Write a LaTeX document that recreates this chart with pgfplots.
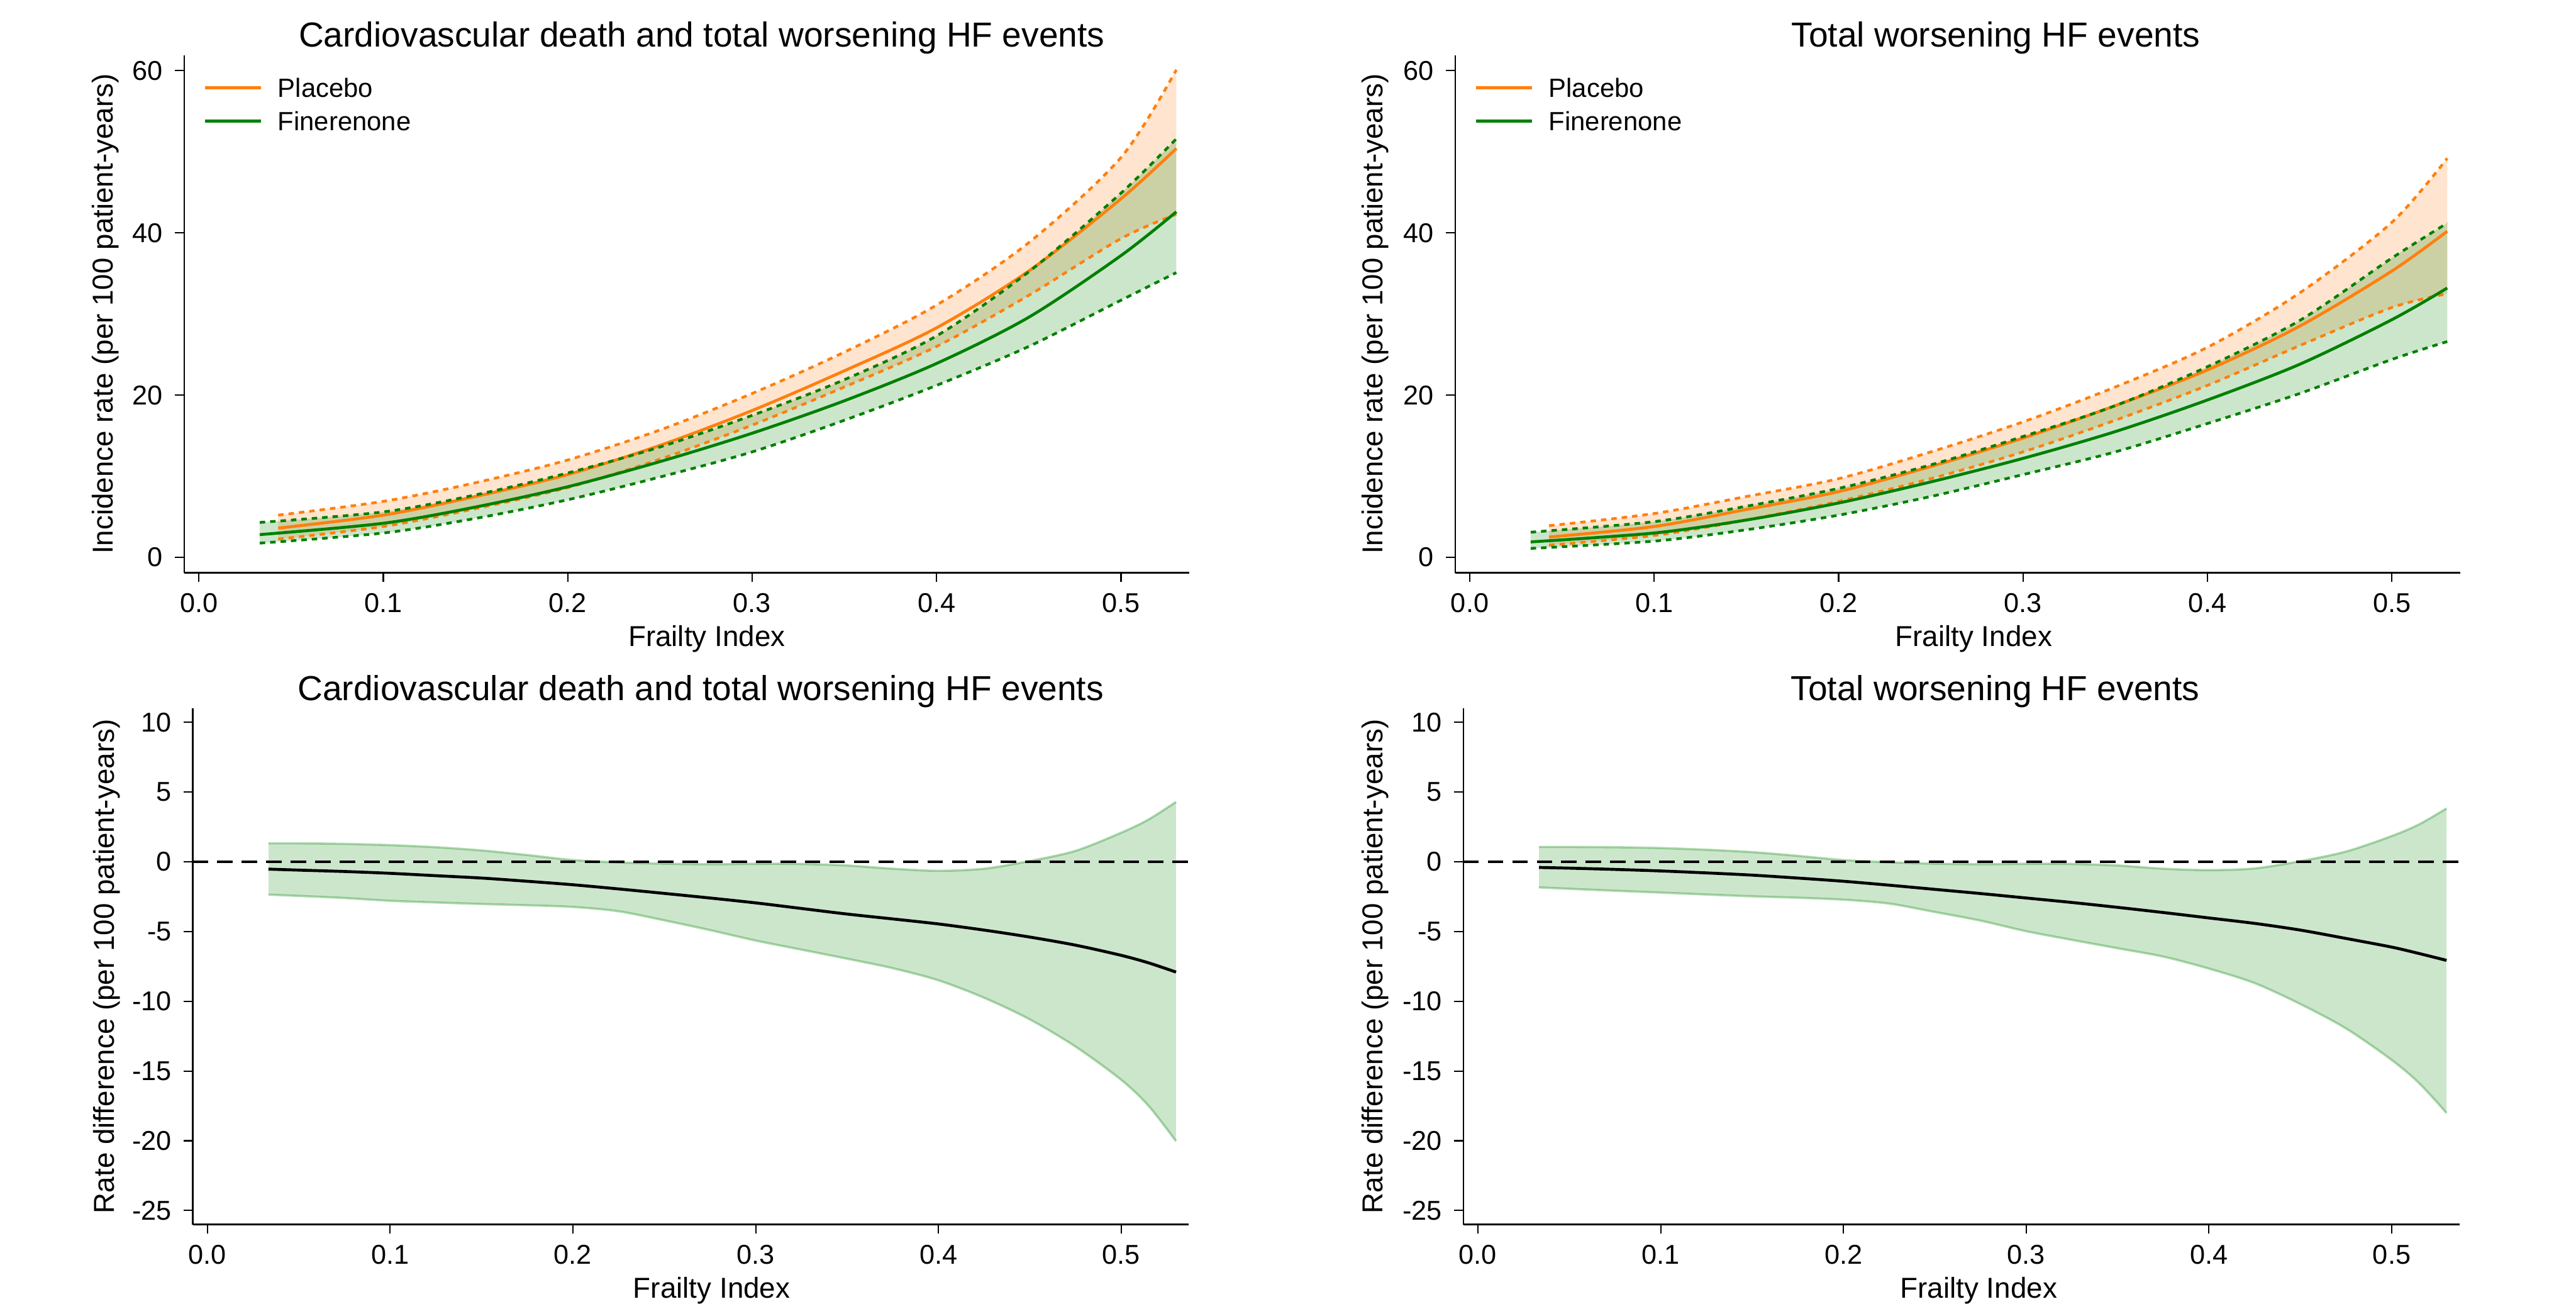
\documentclass[border=0pt]{standalone}
\usepackage{fontspec}
\setmainfont{Liberation Sans}
\usepackage{pgfplots}
\usepackage{pgfplotstable}
\pgfplotsset{compat=1.18}
\usepgfplotslibrary{fillbetween}

\definecolor{plc}{HTML}{FF7F0E}
\definecolor{fin}{HTML}{008000}

% top left: x, mean, upper, lower
\pgfplotstableread{
x     m    u    l
0.043 3.6  5.2  2.25
0.10  5.2  6.9  3.8
0.15  7.5  9.2  6.0
0.20  10.2 12.0 8.6
0.25  13.8 15.7 12.1
0.30  18.1 20.2 16.3
0.35  23.0 25.3 21.0
0.40  28.3 31.1 26.0
0.45  35.3 38.8 32.3
0.50  44.2 49.3 39.3
0.53  50.4 60.1 42.3
}\plcA
\pgfplotstableread{
x     m    u    l
0.033 2.8  4.3  1.75
0.10  4.2  5.6  3.0
0.15  6.2  7.7  4.8
0.20  8.7  10.4 7.1
0.25  11.8 13.6 9.9
0.30  15.3 17.5 13.0
0.35  19.3 21.9 16.9
0.40  23.9 27.3 21.2
0.45  29.6 35.2 26.0
0.50  37.2 44.9 31.7
0.53  42.6 51.6 35.1
}\finA
% top right
\pgfplotstableread{
x     m    u    l
0.043 2.5  3.9  1.5
0.10  3.8  5.4  2.7
0.15  5.9  7.5  4.6
0.20  8.1  9.7  6.9
0.25  11.2 13.0 9.7
0.30  14.7 16.7 13.0
0.35  18.7 21.0 16.9
0.40  23.1 25.9 21.2
0.45  28.5 32.6 26.1
0.50  35.3 41.3 30.8
0.53  40.2 49.2 32.5
}\plcB
\pgfplotstableread{
x     m    u    l
0.033 1.9  3.1  1.1
0.10  3.0  4.4  2.0
0.15  4.6  6.3  3.4
0.20  6.7  8.5  5.2
0.25  9.3  11.4 7.5
0.30  12.2 14.9 10.2
0.35  15.5 18.7 13.0
0.40  19.4 23.5 16.5
0.45  23.8 29.2 20.2
0.50  29.3 36.9 24.4
0.53  33.2 41.2 26.6
}\finB
% bottom left: rate difference
\pgfplotstableread{
x      m      u      l
0.0334 -0.53  1.32  -2.36
0.050  -0.60  1.32  -2.45
0.075  -0.70  1.28  -2.60
0.100  -0.83  1.19  -2.80
0.125  -1.00  1.04  -2.92
0.150  -1.17  0.81  -3.03
0.175  -1.40  0.48  -3.12
0.200  -1.65  0.12  -3.24
0.225  -1.95  -0.05 -3.55
0.250  -2.27  -0.14 -4.20
0.275  -2.60  -0.18 -4.90
0.300  -2.95  -0.15 -5.65
0.325  -3.35  -0.16 -6.30
0.350  -3.75  -0.27 -6.95
0.375  -4.10  -0.50 -7.63
0.400  -4.46  -0.65 -8.50
0.425  -4.90  -0.50 -9.75
0.450  -5.40  0.05  -11.30
0.475  -5.98  0.78  -13.25
0.500  -6.71  2.08  -15.63
0.515  -7.25  3.03  -17.50
0.530  -7.91  4.29  -20.03
}\difA
% bottom right
\pgfplotstableread{
x      m      u      l
0.0334 -0.41  1.06  -1.84
0.050  -0.46  1.06  -1.94
0.075  -0.55  1.04  -2.08
0.100  -0.66  0.98  -2.21
0.125  -0.80  0.86  -2.35
0.150  -0.96  0.69  -2.48
0.175  -1.17  0.42  -2.58
0.200  -1.40  0.12  -2.72
0.225  -1.68  -0.04 -3.00
0.250  -1.98  -0.14 -3.60
0.275  -2.28  -0.18 -4.22
0.300  -2.60  -0.15 -4.98
0.325  -2.92  -0.16 -5.60
0.350  -3.27  -0.27 -6.20
0.375  -3.64  -0.50 -6.80
0.400  -4.03  -0.60 -7.66
0.425  -4.42  -0.48 -8.70
0.450  -4.90  0.04  -10.20
0.475  -5.50  0.73  -11.95
0.500  -6.12  1.84  -14.21
0.515  -6.58  2.68  -15.87
0.530  -7.07  3.82  -18.01
}\difB

\pgfplotsset{
  mypanel/.style={
    scale only axis, anchor=south west,
    axis x line*=bottom, axis y line*=left,
    axis line style={line width=0.3pt},
    tick style={black, line width=0.3pt},
    tick align=outside, major tick length=0.07cm,
    xmin=-0.008, xmax=0.537,
    xtick={0,0.1,0.2,0.3,0.4,0.5},
    xticklabels={0.0,0.1,0.2,0.3,0.4,0.5},
    tick label style={font=\fontsize{6}{7}\selectfont},
    xticklabel style={inner ysep=2.4pt},
    yticklabel style={inner xsep=2.5pt},
    label style={font=\fontsize{6.35}{7.5}\selectfont},
    xlabel={Frailty Index},
    title style={font=\fontsize{7.65}{9}\selectfont, anchor=south, inner sep=0pt, yshift=-6pt},
    legend style={draw=none, fill=none, at={(0.0185,0.9576)},
      anchor=north west, inner sep=0pt, row sep=3.2pt,
      font=\fontsize{5.8}{7}\selectfont,
      nodes={inner sep=0pt, text height=4.2pt, text depth=0pt},
      /tikz/every odd column/.append style={column sep=3.4pt}},
    legend cell align=left,
    legend image code/.code={\draw[##1, line width=0.75pt] (0cm,0cm) -- (0.43cm,0cm);},
  },
  mytop/.style={width=7.79cm, height=4.01cm,
    ymin=-1.9, ymax=61.9, ytick={0,20,40,60}, yticklabels={0,20,40,60},
    ylabel={Incidence rate (per 100 patient-years)}},
  mybot/.style={width=7.72cm, height=4.0cm,
    ymin=-26, ymax=11, ytick={-25,-20,-15,-10,-5,0,5,10},
    yticklabels={-25,-20,-15,-10,-5,0,5,10},
    ylabel={Rate difference (per 100 patient-years)}},
  myci/.style={line width=0.6pt, dash pattern=on 1.2pt off 1.1pt, smooth, forget plot},
  myest/.style={line width=0.65pt, smooth},
}

\begin{document}
\begin{tikzpicture}

% ---------- top left
\begin{axis}[mypanel, mytop, at={(1.427cm,5.664cm)},
  title={Cardiovascular death and total worsening HF events},
  title style={at={(0.515,1)}},
  xlabel style={at={(0.52,-0.142)}, anchor=base},
  ylabel style={at={(-0.0785,0.5)}, anchor=center}]
\addplot[draw=none, name path=pu, smooth, forget plot] table[x=x, y=u] {\plcA};
\addplot[draw=none, name path=pl, smooth, forget plot] table[x=x, y=l] {\plcA};
\addplot[plc, fill opacity=0.2, draw=none, forget plot] fill between[of=pu and pl];
\addplot[plc, myci] table[x=x, y=u] {\plcA};
\addplot[plc, myci] table[x=x, y=l] {\plcA};
\addplot[plc, myest] table[x=x, y=m] {\plcA};
\addlegendentry{Placebo}
\addplot[draw=none, name path=fu, smooth, forget plot] table[x=x, y=u] {\finA};
\addplot[draw=none, name path=fl, smooth, forget plot] table[x=x, y=l] {\finA};
\addplot[fin, fill opacity=0.2, draw=none, forget plot] fill between[of=fu and fl];
\addplot[fin, myci] table[x=x, y=u] {\finA};
\addplot[fin, myci] table[x=x, y=l] {\finA};
\addplot[fin, myest] table[x=x, y=m] {\finA};
\addlegendentry{Finerenone}
\end{axis}

% ---------- top right
\begin{axis}[mypanel, mytop, at={(11.277cm,5.664cm)},
  title={Total worsening HF events},
  title style={at={(0.538,1)}},
  xlabel style={at={(0.516,-0.142)}, anchor=base},
  ylabel style={at={(-0.0797,0.5)}, anchor=center}]
\addplot[draw=none, name path=pu, smooth, forget plot] table[x=x, y=u] {\plcB};
\addplot[draw=none, name path=pl, smooth, forget plot] table[x=x, y=l] {\plcB};
\addplot[plc, fill opacity=0.2, draw=none, forget plot] fill between[of=pu and pl];
\addplot[plc, myci] table[x=x, y=u] {\plcB};
\addplot[plc, myci] table[x=x, y=l] {\plcB};
\addplot[plc, myest] table[x=x, y=m] {\plcB};
\addlegendentry{Placebo}
\addplot[draw=none, name path=fu, smooth, forget plot] table[x=x, y=u] {\finB};
\addplot[draw=none, name path=fl, smooth, forget plot] table[x=x, y=l] {\finB};
\addplot[fin, fill opacity=0.2, draw=none, forget plot] fill between[of=fu and fl];
\addplot[fin, myci] table[x=x, y=u] {\finB};
\addplot[fin, myci] table[x=x, y=l] {\finB};
\addplot[fin, myest] table[x=x, y=m] {\finB};
\addlegendentry{Finerenone}
\end{axis}

% ---------- bottom left
\begin{axis}[mypanel, mybot, at={(1.494cm,0.614cm)},
  title={Cardiovascular death and total worsening HF events},
  title style={at={(0.51,1)}},
  xlabel style={at={(0.521,-0.142)}, anchor=base},
  ylabel style={at={(-0.0866,0.5)}, anchor=center}]
\addplot[draw=none, name path=du, smooth] table[x=x, y=u] {\difA};
\addplot[draw=none, name path=dl, smooth] table[x=x, y=l] {\difA};
\addplot[fin, fill opacity=0.2, draw=none] fill between[of=du and dl];
\addplot[fin, opacity=0.3, line width=0.5pt, smooth] table[x=x, y=u] {\difA};
\addplot[fin, opacity=0.3, line width=0.5pt, smooth] table[x=x, y=l] {\difA};
\addplot[black, line width=0.65pt, dash pattern=on 3.4pt off 2pt] coordinates {(-0.008,0) (0.537,0)};
\addplot[black, line width=0.65pt, smooth] table[x=x, y=m] {\difA};
\end{axis}

% ---------- bottom right
\begin{axis}[mypanel, mybot, at={(11.341cm,0.614cm)},
  title={Total worsening HF events},
  title style={at={(0.534,1)}},
  xlabel style={at={(0.5175,-0.142)}, anchor=base},
  ylabel style={at={(-0.0886,0.5)}, anchor=center}]
\addplot[draw=none, name path=du, smooth] table[x=x, y=u] {\difB};
\addplot[draw=none, name path=dl, smooth] table[x=x, y=l] {\difB};
\addplot[fin, fill opacity=0.2, draw=none] fill between[of=du and dl];
\addplot[fin, opacity=0.3, line width=0.5pt, smooth] table[x=x, y=u] {\difB};
\addplot[fin, opacity=0.3, line width=0.5pt, smooth] table[x=x, y=l] {\difB};
\addplot[black, line width=0.65pt, dash pattern=on 3.4pt off 2pt] coordinates {(-0.008,0) (0.537,0)};
\addplot[black, line width=0.65pt, smooth] table[x=x, y=m] {\difB};
\end{axis}

\pgfresetboundingbox
\path[use as bounding box] (0,0) rectangle (19.965,10.102);
\end{tikzpicture}
\end{document}
